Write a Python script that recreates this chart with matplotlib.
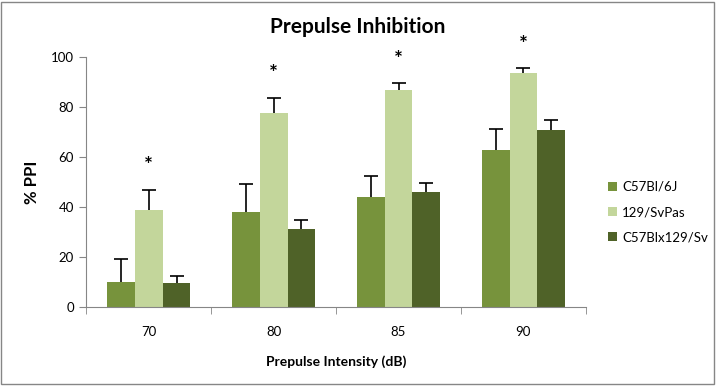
import matplotlib
matplotlib.use("Agg")
import matplotlib.pyplot as plt
from matplotlib.patches import Rectangle
import numpy as np

categories = ["70", "80", "85", "90"]
series = ["C57Bl/6J", "129/SvPas", "C57Blx129/Sv"]
values = {
    "C57Bl/6J": [9.8, 37.9, 43.9, 62.8],
    "129/SvPas": [38.7, 77.6, 86.9, 93.7],
    "C57Blx129/Sv": [9.4, 31.1, 45.9, 70.8],
}
errors = {
    "C57Bl/6J": [9.5, 11.2, 8.4, 8.4],
    "129/SvPas": [8.3, 6.3, 2.7, 1.9],
    "C57Blx129/Sv": [3.0, 3.8, 3.9, 3.9],
}
significant = [True, True, True, True]  # 129/SvPas vs others
colors = {"C57Bl/6J": "#77933C", "129/SvPas": "#C3D69B", "C57Blx129/Sv": "#4F6228"}

FONT = "Lato"
plt.rcParams["font.family"] = [FONT, "DejaVu Sans"]

fig = plt.figure(figsize=(7.16, 3.86), dpi=100)
ax = fig.add_axes([0.1207, 0.2052, 0.6974, 0.6461])

# chart area border
fig.patches.append(Rectangle((0.002, 0.004), 0.995, 0.992, transform=fig.transFigure,
                             fill=False, edgecolor="#868686", linewidth=1.0))

x = np.arange(len(categories))
width = 0.665 / 3
for i, name in enumerate(series):
    pos = x + (i - 1) * width
    vals = np.array(values[name])
    tops = vals + np.array(errors[name])
    ax.bar(pos, vals, width, color=colors[name], label=name, zorder=2)
    # plus-only error bars, no cap at the bar top
    ax.vlines(pos, vals, tops, color="black", linewidth=1.2, zorder=3)
    ax.plot(pos, tops, linestyle="none", marker="_", markersize=10,
            markeredgewidth=1.2, color="black", zorder=3)

# significance stars above the 129/SvPas bars
for xi, v, e, s in zip(x, values["129/SvPas"], errors["129/SvPas"], significant):
    if s:
        ax.annotate("*", (xi, v + e), xytext=(0, 17), textcoords="offset points",
                    ha="center", va="center", fontsize=15, fontweight="bold",
                    annotation_clip=False)

ax.set_xlim(-0.5, len(categories) - 0.5)
ax.set_ylim(0, 100)
ax.set_yticks(range(0, 101, 20))
ax.set_xticks(x)
ax.set_xticklabels(categories)
ax.set_xticks(np.arange(-0.5, len(categories)), minor=True)
ax.tick_params(axis="x", which="major", length=0, pad=14, labelsize=9.5)
ax.tick_params(axis="x", which="minor", length=5, color="#868686", direction="out")
ax.tick_params(axis="y", length=5, color="#868686", direction="out", labelsize=9.5, pad=4)

for side in ("top", "right"):
    ax.spines[side].set_visible(False)
for side in ("left", "bottom"):
    ax.spines[side].set_color("#868686")

ax.set_xlabel("Prepulse Intensity (dB)", fontsize=10, fontweight="bold", labelpad=12)
ax.set_ylabel("% PPI", fontsize=12, fontweight="bold", labelpad=8)
fig.text(0.5, 0.93, "Prepulse Inhibition", ha="center", va="center",
         fontsize=15, fontweight="bold")

ax.legend(loc="center left", bbox_to_anchor=(1.02, 0.38), frameon=False,
          fontsize=9.5, handlelength=0.7, handleheight=0.7, handletextpad=0.4,
          labelspacing=1.0)

fig.savefig("out.png", dpi=100)
